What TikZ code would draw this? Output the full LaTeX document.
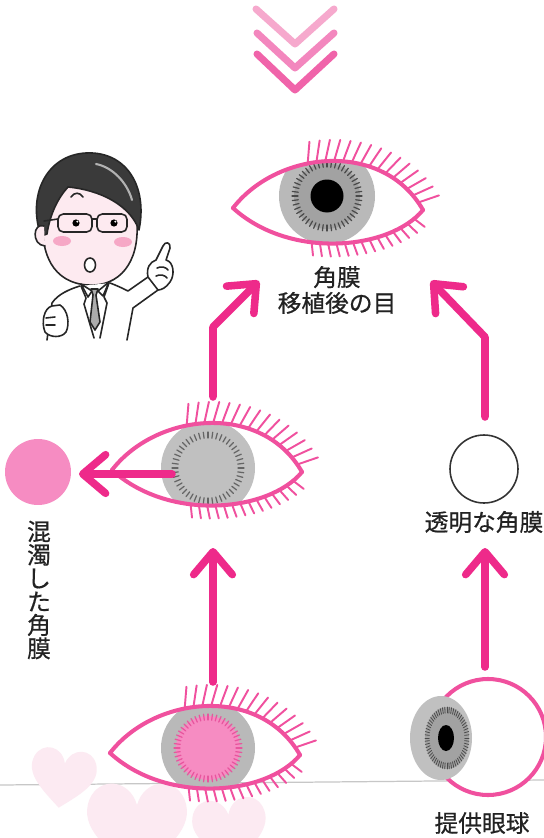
\documentclass[tikz,border=0pt]{standalone}
\usepackage{fontspec}
\newfontfamily\jp[FakeBold=0.6]{Noto Sans CJK JP}
\usetikzlibrary{arrows.meta,decorations.markings}

\definecolor{lidpink}{HTML}{F0509E}
\definecolor{arrowpink}{HTML}{EE2A8A}
\definecolor{cloudpink}{HTML}{F68CC2}
\definecolor{cloudtick}{HTML}{E8559E}
\definecolor{irisgray}{HTML}{B9B9B9}
\definecolor{innergray}{HTML}{A2A2A2}
\definecolor{palegray}{HTML}{C0C0C0}
\definecolor{tickgray}{HTML}{4A4A4A}
\definecolor{chevA}{HTML}{F6A9CD}
\definecolor{chevB}{HTML}{F387BE}
\definecolor{chevC}{HTML}{F064AA}
\definecolor{skin}{HTML}{FDEAF0}
\definecolor{blush}{HTML}{F6A8C6}
\definecolor{hair}{HTML}{3A3A3A}
\definecolor{heartpink}{HTML}{FCEAF2}
\definecolor{inkdark}{HTML}{222222}

% eye outline, drawn from the inner corner at (0,0)
\newcommand\lidtop{(0,0) .. controls (45,-58) and (150,-68) .. (190,2)}
\newcommand\lidbottom{(0,0) .. controls (57,52) and (157,42) .. (190,2)}
\newcommand\eyeshape{(0,0) .. controls (45,-58) and (150,-68) .. (190,2) .. controls (157,42) and (57,52) .. (0,0) -- cycle}
% unit heart, point downwards
\newcommand\heartshape{(0,0.5) .. controls (-0.3,0.25) and (-0.62,0.02) .. (-0.5,-0.28) .. controls (-0.4,-0.52) and (-0.08,-0.5) .. (0,-0.22) .. controls (0.08,-0.5) and (0.4,-0.52) .. (0.5,-0.28) .. controls (0.62,0.02) and (0.3,0.25) .. (0,0.5) -- cycle}

\begin{document}
\begin{tikzpicture}[x=0.02cm, y=-0.02cm,
  lid/.style={draw=lidpink, line width=2.3pt, line cap=round, line join=round},
  lash/.style={draw=lidpink, line width=1.1pt, line cap=round},
  uplashes/.style={postaction={decorate, decoration={markings,
      mark=between positions 0.40 and 0.99 step 0.04 with {\draw[lash] (0,0) -- (6,-21);}}}},
  lowlashes/.style={postaction={decorate, decoration={markings,
      mark=between positions 0.42 and 0.975 step 0.04 with {\draw[lash] (0,0) -- (3,13);}}}},
  flow/.style={draw=arrowpink, line width=4.3pt, line cap=round, line join=round,
      -{Straight Barb[length=13pt, width=22pt, round]}},
  chevron/.style={line width=4pt, line cap=round, line join=round},
  tick/.style={line width=0.7pt, line cap=round},
  outline/.style={draw=black!85, line width=0.9pt, line cap=round, line join=round},
  label/.style={font=\jp\fontsize{13.5}{14.7}\selectfont, inner sep=0pt, align=center, text=inkdark}
]
% page
\fill[white] (0,0) rectangle (544,838);
\useasboundingbox (0,0) rectangle (544,838);

% floor line
\draw[black!22, line width=0.7pt] (0,785) -- (544,780);

% soft hearts in the lower left
\fill[heartpink, shift={(63,777)}, scale=62, rotate=-8] \heartshape;
\fill[heartpink, shift={(137,826)}, scale=95] \heartshape;
\fill[heartpink, shift={(230,830)}, scale=70, rotate=6] \heartshape;

% chevrons
\draw[chevron, chevA] (256,9) -- (295,44) -- (334,9);
\draw[chevron, chevB] (257,33) -- (295,68) -- (334,33);
\draw[chevron, chevC] (257,54) -- (295,90) -- (334,54);

% ---------- doctor ----------
\draw[outline, fill=skin] (43,222) .. controls (41,252) and (52,283) .. (88,285) .. controls (120,287) and (139,262) .. (137,224) .. controls (135,192) and (112,176) .. (88,176) .. controls (62,176) and (45,196) .. (43,222) -- cycle;
\draw[outline, fill=hair] (41,236) .. controls (27,196) and (46,155) .. (86,153) .. controls (126,151) and (148,186) .. (139,230) .. controls (130,205) and (100,190) .. (68,187) .. controls (58,198) and (50,214) .. (47,234) -- cycle;
\draw[gray!60, line width=1.2pt, line cap=round] (96,164) .. controls (112,167) and (127,182) .. (132,200);
\draw[outline, fill=skin] (44,226) .. controls (33,222) and (31,245) .. (45,246);
\draw[outline] (71,197) .. controls (74,192) and (80,192) .. (83,197);
\draw[outline, rounded corners=3] (58,214) rectangle (92,232);
\draw[outline, rounded corners=3] (97,214) rectangle (127,232);
\draw[outline] (92,219) -- (97,219);
\draw[outline] (58,219) -- (44,221);
\fill[black] (76,223) circle (3.6);
\fill[black] (114,223) circle (3.6);
\fill[white] (77.3,221.6) circle (1.1);
\fill[white] (115.3,221.6) circle (1.1);
\fill[blush] (62,241) ellipse (9 and 5);
\fill[blush] (123,242) ellipse (9 and 5);
\draw[outline, fill=white] (90,265) ellipse (5.5 and 7);
% coat
\fill[white] (47,340) -- (52,303) .. controls (58,294) and (70,289) .. (80,286) -- (110,283) .. controls (118,286) and (124,289) .. (128,291) -- (148,277) -- (158,290) -- (133,308) -- (127,340) -- cycle;
\draw[outline] (47,340) -- (52,303) .. controls (58,294) and (70,289) .. (80,286);
\draw[outline] (110,283) .. controls (118,286) and (124,289) .. (128,291) -- (148,277);
\draw[outline] (158,290) -- (133,308) -- (127,340);
\draw[outline, fill=white] (81,284) -- (92,291) -- (88,297) -- cycle;
\draw[outline, fill=white] (109,282) -- (98,291) -- (103,296) -- cycle;
\draw[outline, fill=gray!65] (91,289) -- (98,289) -- (96,295) -- (100,322) -- (95,330) -- (90,322) -- (93,295) -- cycle;
\draw[outline] (81,286) -- (86,298) -- (84,304) -- (94,338);
\draw[outline] (109,283) -- (104,297) -- (107,303) -- (100,338);
% pointing hand
\draw[outline, fill=white] (148,277) .. controls (146,268) and (150,262) .. (156,260) -- (163,246) .. controls (165,241) and (171,242) .. (170,248) -- (166,260) .. controls (174,262) and (175,275) .. (170,282) .. controls (166,288) and (161,290) .. (158,290) -- cycle;
\draw[outline] (157,268) .. controls (161,266) and (166,267) .. (168,270);
\draw[outline] (156,276) .. controls (160,274) and (165,275) .. (167,278);
% fist
\draw[outline, fill=white] (52,306) .. controls (44,308) and (41,322) .. (45,332) .. controls (50,338) and (62,338) .. (66,332) .. controls (70,324) and (68,310) .. (60,305) -- cycle;
\draw[outline] (46,318) -- (55,317);
\draw[outline] (46,325) -- (55,325);

% ---------- eye after transplant ----------
\begin{scope}[shift={(233,208)}]
  \coordinate (irisTop) at (94,-12);
  \fill[white] \eyeshape;
  \begin{scope}
    \clip \eyeshape;
    \fill[irisgray] (irisTop) circle (48);
    \fill[innergray] (irisTop) circle (33);
    \begin{scope}[shift={(94,-12)}]
      \foreach \a in {0,7.5,...,352.5} \draw[tick, tickgray] (\a:29) -- (\a:35);
    \end{scope}
    \fill[black] (irisTop) circle (16.5);
  \end{scope}
  \draw[lid, uplashes] \lidtop;
  \draw[lid, lowlashes] \lidbottom;
\end{scope}

% ---------- eye with clouded cornea removed ----------
\begin{scope}[shift={(112,470)}]
  \coordinate (irisMid) at (96,-2);
  \fill[white] \eyeshape;
  \begin{scope}
    \clip \eyeshape;
    \fill[palegray] (irisMid) circle (47);
    \begin{scope}[shift={(96,-2)}]
      \foreach \a in {0,7.5,...,352.5} \draw[tick, tickgray!85] (\a:30) -- (\a:36);
    \end{scope}
  \end{scope}
  \draw[lid, uplashes] \lidtop;
  \draw[lid, lowlashes] \lidbottom;
\end{scope}

% ---------- eye with clouded cornea ----------
\begin{scope}[shift={(110,753)}]
  \coordinate (irisLow) at (98,-5);
  \begin{scope}
    \clip \eyeshape;
    \fill[irisgray] (irisLow) circle (47);
    \fill[cloudpink] (irisLow) circle (32);
    \begin{scope}[shift={(98,-5)}]
      \foreach \a in {0,7.5,...,352.5} \draw[tick, cloudtick] (\a:28) -- (\a:34);
    \end{scope}
  \end{scope}
  \draw[lid, uplashes] \lidtop;
  \draw[lid, lowlashes] \lidbottom;
\end{scope}

% ---------- donor eyeball ----------
\draw[lid, fill=white] (488,737) circle (58);
\fill[palegray] (441,738) ellipse (31 and 42);
\fill[innergray] (447,738) ellipse (22 and 31);
\begin{scope}[shift={(447,738)}, xscale=0.71]
  \foreach \a in {0,6,...,354} \draw[tick, tickgray, line width=0.45pt] (\a:25) -- (\a:31);
\end{scope}
\fill[black] (446,738) ellipse (8 and 13);

% ---------- corneas ----------
\node[circle, fill=cloudpink, minimum size=1.32cm, inner sep=0pt] (opaque) at (38,472) {};
\node[circle, draw=black!80, line width=0.9pt, fill=white, minimum size=1.36cm, inner sep=0pt] (clear) at (484,469) {};

% ---------- arrows ----------
\coordinate (fromMid) at (213,397);
\coordinate (bendL) at (213,327);
\coordinate (toTopL) at (259,281);
\coordinate (fromClear) at (485,417);
\coordinate (bendR) at (485,337);
\coordinate (toTopR) at (431,281);
\coordinate (fromIris) at (172,474);
\coordinate (toOpaque) at (79,474);
\coordinate (fromLow) at (213,682);
\coordinate (toMid) at (213,548);
\coordinate (fromDonor) at (485,667);
\coordinate (toClear) at (485,548);
\draw[flow] (fromMid) -- (bendL) -- (toTopL);
\draw[flow] (fromClear) -- (bendR) -- (toTopR);
\draw[flow] (fromIris) -- (toOpaque);
\draw[flow] (fromLow) -- (toMid);
\draw[flow] (fromDonor) -- (toClear);

% ---------- labels ----------
\node[label] (lblTop) at (337,290) {角膜\\移植後の目};
\node[label] (lblClear) at (484,522) {透明な角膜};
\node[label] (lblDonor) at (482,823) {提供眼球};
\node[label, font=\jp\fontsize{13.5}{13.3}\selectfont] (lblOpaque) at (39,590) {混\\濁\\し\\た\\角\\膜};
\end{tikzpicture}
\end{document}
